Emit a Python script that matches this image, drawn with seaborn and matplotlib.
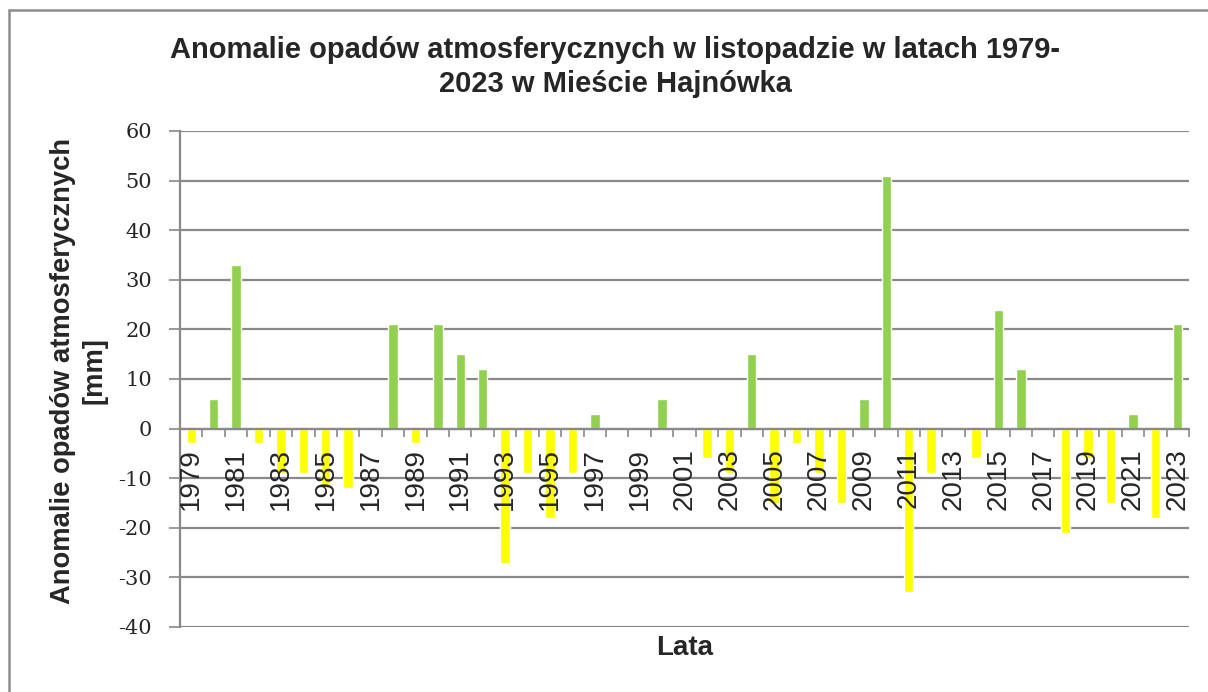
import numpy as np
import pandas as pd
import matplotlib
matplotlib.use('Agg')
import matplotlib.pyplot as plt
import seaborn as sns
from matplotlib.patches import Rectangle
from matplotlib.ticker import FixedLocator

# November precipitation anomalies, Hajnówka 1979-2023 [mm]
years = list(range(1979, 2024))
anomalies = [
    -3, 6, 33, -3, -9, -9, -12, -12, 0, 21,
    -3, 21, 15, 12, -27, -9, -18, -9, 3, 0,
    0, 6, 0, -6, -9, 15, -15, -3, -9, -15,
    6, 51, -33, -9, 0, -6, 24, 12, 0, -21,
    -6, -15, 3, -18, 21,
]
title = 'Anomalie opadów atmosferycznych w listopadzie w latach 1979-\n2023 w Mieście Hajnówka'
ylabel = 'Anomalie opadów atmosferycznych\n[mm]'
xlabel = 'Lata'

df = pd.DataFrame({'rok': [str(y) for y in years], 'anomalia': anomalies})
df['znak'] = np.where(df['anomalia'] >= 0, 'plus', 'minus')
colors = {'plus': '#92D050', 'minus': '#FFFF00'}

sns.set_style('white')
plt.rcParams['font.family'] = ['Liberation Sans', 'DejaVu Sans']
plt.rcParams['axes.unicode_minus'] = False

fig = plt.figure(figsize=(12.08, 6.92), dpi=100)
ax = fig.add_axes([180 / 1208, 1 - 627 / 692, (1189 - 180) / 1208, (627 - 131) / 692])

sns.barplot(data=df, x='rok', y='anomalia', hue='znak', palette=colors,
            dodge=False, width=0.42, legend=False, ax=ax, saturation=1)

grid_c = '#898989'
ax.set_ylim(-40, 60)
ax.set_xlim(-0.5, len(years) - 0.5)
ax.set_yticks(np.arange(-40, 61, 10))
# gridlines under the bars, tick labels over them
ax.grid(False)
ax.set_axisbelow(False)
for yv in np.arange(-40, 61, 10):
    ax.axhline(yv, color=grid_c, linewidth=1.6, zorder=0.5)
for s in ['top', 'right']:
    ax.spines[s].set_visible(False)
ax.spines['left'].set_color(grid_c)
ax.spines['left'].set_linewidth(1.6)
ax.spines['bottom'].set_position(('data', 0))
ax.spines['bottom'].set_color(grid_c)
ax.spines['bottom'].set_linewidth(1.6)

ax.tick_params(axis='y', which='major', direction='out', length=8, width=1.2,
               color=grid_c, pad=12, left=True)
for lab in ax.get_yticklabels():
    lab.set_fontfamily('DejaVu Serif')
    lab.set_fontsize(15)

pos = np.arange(len(years))
ax.set_xticks(pos[::2])
ax.set_xticklabels(df['rok'][::2], rotation=90, fontsize=20, va='top')
ax.tick_params(axis='x', which='major', length=0, pad=14)
ax.xaxis.set_minor_locator(FixedLocator(np.arange(-0.5, len(years), 1)))
ax.tick_params(axis='x', which='minor', direction='out', length=6, width=1.2,
               color=grid_c, bottom=True)

ax.set_xlabel('')
ax.set_ylabel('')
fig.text(0.5 * (180 + 1189) / 1208, 1 - 648 / 692, xlabel, ha='center', va='center',
         fontsize=20, fontweight='bold')
fig.text(79 / 1208, 1 - 371 / 692, ylabel, ha='center', va='center', rotation=90,
         fontsize=19.7, fontweight='bold', linespacing=1.25)
fig.text(615 / 1208, 1 - 67 / 692, title, ha='center', va='center',
         fontsize=21, fontweight='bold', linespacing=1.3)

fig.patches.append(Rectangle((9 / 1208, -0.1), 1.2, 1.1 - 10 / 692,
                             transform=fig.transFigure, fill=False,
                             edgecolor='#8c8c8c', linewidth=1.8))

fig.savefig('out.png', dpi=100)
